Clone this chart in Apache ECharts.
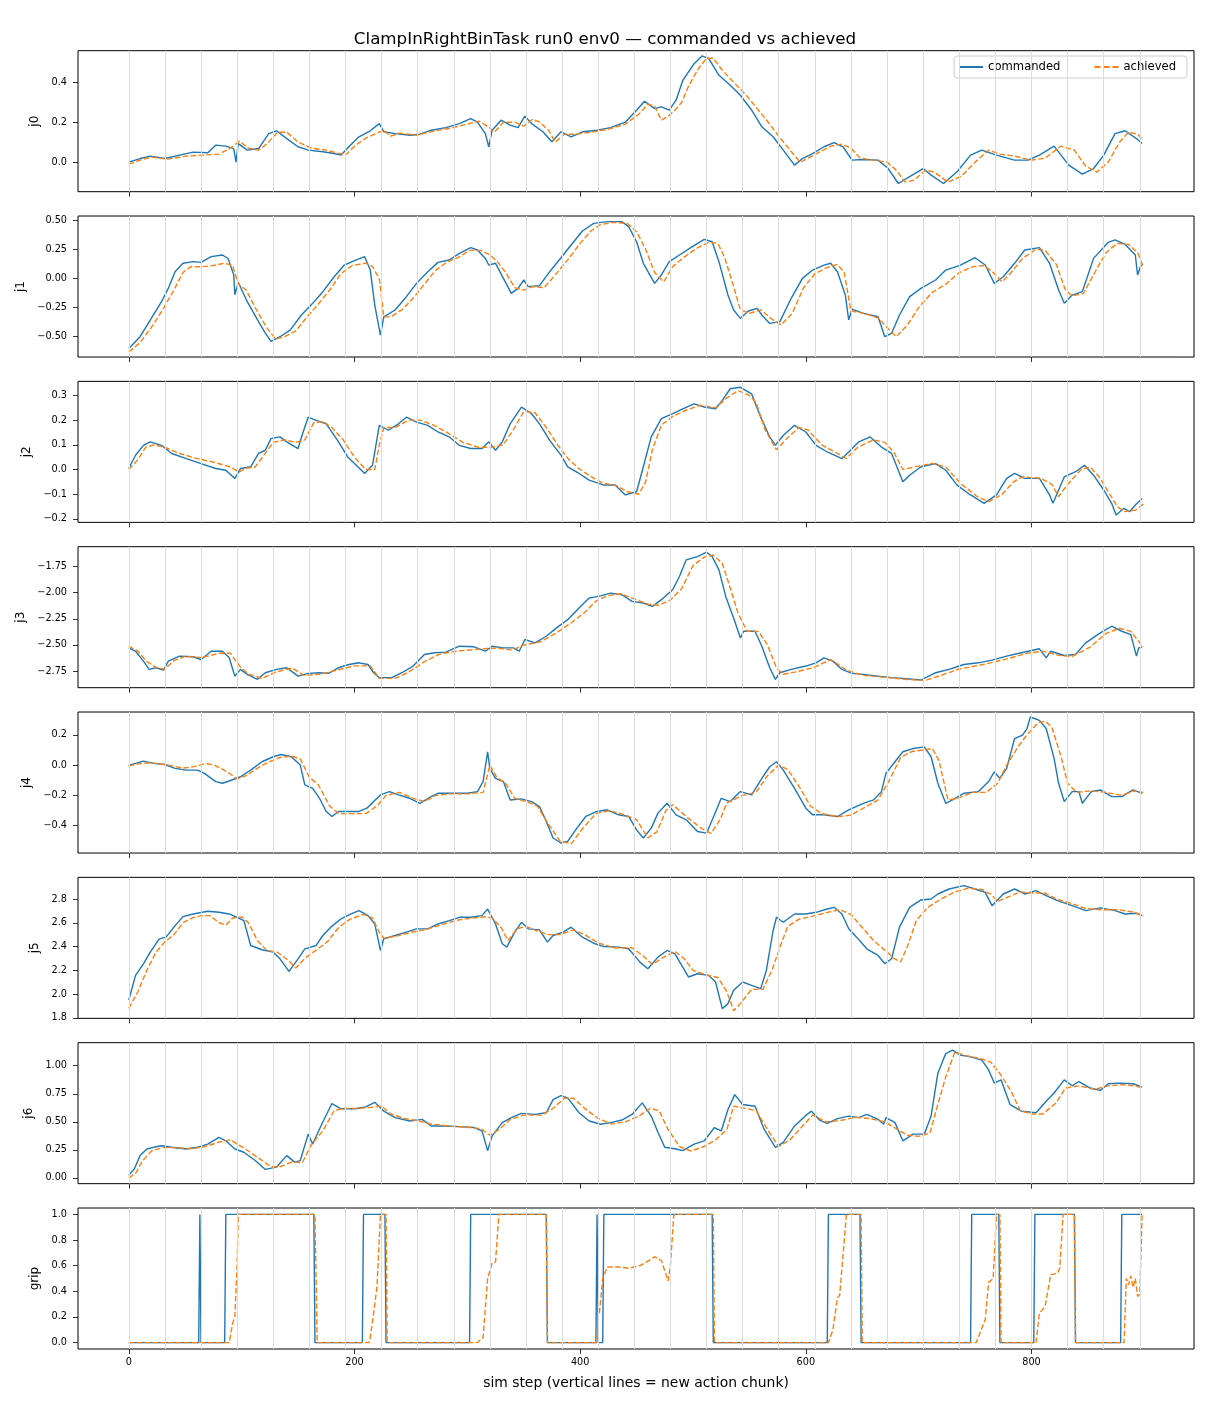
<!DOCTYPE html>
<html>
<head>
<meta charset="utf-8">
<script src="https://cdn.jsdelivr.net/npm/echarts@6/dist/echarts.min.js"></script>
<style>
  html, body { margin: 0; padding: 0; background: #fff; }
  #chart { width: 1210px; height: 1408px; }
</style>
</head>
<body>
<div id="chart"></div>
<script>
// steps where a new action chunk starts
const chunkStarts = [0, 32, 64, 96, 128, 160, 192, 224, 256, 288, 320, 352, 384, 416, 448, 480,
  512, 544, 576, 608, 640, 672, 704, 736, 768, 800, 832, 864, 896];
const xTicks = [0, 200, 400, 600, 800];

// [step, value]
const j0Cmd = [[0,0.0],[10,0.018],[19,0.03],[32,0.018],[45,0.035],[57,0.05],[70,0.047],[77,0.085],[86,0.08],[93,0.068],[95,0.0],[97,0.093],[105,0.06],[115,0.068],[124,0.143],[131,0.157],[140,0.118],[150,0.077],[159,0.06],[172,0.052],[182,0.043],[188,0.035],[195,0.077],[204,0.127],[214,0.157],[222,0.193],[226,0.152],[236,0.143],[249,0.135],[258,0.14],[268,0.16],[281,0.173],[293,0.193],[303,0.218],[309,0.2],[316,0.143],[319,0.077],[322,0.16],[330,0.21],[338,0.185],[345,0.173],[351,0.23],[357,0.193],[367,0.152],[375,0.102],[383,0.152],[392,0.127],[402,0.152],[415,0.16],[427,0.173],[440,0.2],[450,0.26],[457,0.305],[466,0.268],[472,0.277],[479,0.26],[485,0.31],[491,0.41],[501,0.493],[508,0.532],[514,0.518],[523,0.435],[533,0.385],[542,0.335],[552,0.26],[561,0.177],[571,0.127],[580,0.06],[590,-0.015],[597,0.018],[606,0.043],[616,0.077],[625,0.098],[633,0.077],[641,0.01],[651,0.013],[664,0.01],[673,-0.032],[682,-0.107],[692,-0.073],[704,-0.032],[711,-0.065],[722,-0.107],[734,-0.048],[746,0.035],[756,0.06],[769,0.035],[785,0.01],[797,0.01],[807,0.035],[820,0.08],[833,-0.015],[845,-0.06],[855,-0.032],[864,0.035],[874,0.143],[883,0.157],[893,0.118],[898,0.093]];
const j0Ach = [[0,-0.01],[10,0.01],[20,0.025],[35,0.015],[50,0.03],[65,0.035],[80,0.04],[90,0.07],[98,0.105],[106,0.07],[115,0.06],[122,0.09],[132,0.15],[140,0.15],[150,0.1],[162,0.07],[175,0.06],[185,0.045],[193,0.04],[200,0.08],[210,0.12],[218,0.14],[226,0.16],[232,0.13],[240,0.145],[255,0.135],[270,0.155],[285,0.17],[300,0.19],[310,0.205],[318,0.18],[324,0.15],[332,0.2],[342,0.2],[350,0.18],[358,0.215],[364,0.2],[372,0.16],[378,0.1],[386,0.14],[396,0.14],[410,0.15],[425,0.165],[440,0.19],[452,0.24],[460,0.29],[466,0.28],[472,0.21],[478,0.23],[484,0.26],[490,0.3],[496,0.38],[505,0.47],[512,0.52],[518,0.52],[526,0.46],[536,0.4],[548,0.33],[558,0.26],[568,0.19],[576,0.13],[586,0.06],[595,0.0],[602,0.02],[612,0.05],[622,0.08],[632,0.09],[640,0.07],[648,0.02],[660,0.01],[672,0.0],[680,-0.04],[688,-0.1],[696,-0.09],[706,-0.04],[714,-0.05],[726,-0.1],[738,-0.07],[750,0.0],[762,0.06],[772,0.04],[785,0.03],[800,0.01],[812,0.02],[826,0.08],[838,0.06],[848,-0.02],[858,-0.05],[868,0.0],[878,0.1],[886,0.15],[894,0.14],[899,0.11]];

const j1Cmd = [[0,-0.6],[10,-0.5],[19,-0.357],[29,-0.2],[35,-0.086],[41,0.057],[48,0.129],[57,0.143],[64,0.137],[73,0.186],[83,0.2],[88,0.17],[93,0.03],[94,-0.14],[97,-0.034],[105,-0.2],[115,-0.37],[121,-0.47],[126,-0.54],[134,-0.5],[143,-0.443],[153,-0.314],[163,-0.214],[172,-0.114],[182,0.014],[191,0.114],[201,0.157],[209,0.186],[214,0.071],[218,-0.229],[223,-0.486],[226,-0.33],[236,-0.271],[246,-0.157],[255,-0.043],[265,0.057],[274,0.137],[284,0.157],[293,0.214],[303,0.263],[309,0.243],[316,0.171],[319,0.114],[325,0.129],[332,0.0],[339,-0.129],[345,-0.086],[350,-0.014],[354,-0.071],[364,-0.063],[373,0.057],[383,0.177],[392,0.286],[402,0.406],[412,0.471],[424,0.486],[437,0.486],[443,0.443],[450,0.314],[456,0.129],[466,-0.043],[472,0.029],[479,0.143],[488,0.2],[498,0.263],[510,0.334],[517,0.314],[523,0.143],[531,-0.143],[536,-0.271],[542,-0.343],[549,-0.28],[557,-0.257],[561,-0.314],[568,-0.386],[577,-0.371],[587,-0.171],[597,0.0],[606,0.071],[616,0.114],[622,0.129],[628,0.057],[635,-0.143],[638,-0.357],[641,-0.263],[651,-0.3],[664,-0.329],[670,-0.5],[676,-0.471],[683,-0.314],[692,-0.157],[702,-0.086],[715,-0.014],[724,0.071],[737,0.114],[750,0.177],[759,0.114],[767,-0.043],[775,0.014],[785,0.129],[794,0.243],[807,0.263],[816,0.129],[824,-0.1],[829,-0.214],[836,-0.143],[845,-0.114],[855,0.171],[868,0.309],[874,0.329],[883,0.291],[892,0.2],[894,0.029],[897,0.114],[898,0.109]];
const j1Ach = [[0,-0.63],[10,-0.55],[20,-0.42],[30,-0.27],[40,-0.1],[48,0.05],[55,0.1],[65,0.1],[75,0.11],[85,0.13],[92,0.11],[97,-0.05],[104,-0.1],[112,-0.25],[122,-0.42],[130,-0.52],[138,-0.5],[148,-0.45],[158,-0.33],[168,-0.22],[178,-0.1],[188,0.04],[198,0.11],[210,0.13],[216,0.1],[222,0.0],[226,-0.33],[232,-0.33],[242,-0.27],[252,-0.17],[262,-0.05],[272,0.07],[282,0.14],[292,0.18],[302,0.24],[312,0.24],[320,0.2],[326,0.15],[334,0.05],[342,-0.08],[350,-0.1],[358,-0.07],[368,-0.08],[378,0.03],[390,0.17],[400,0.3],[410,0.41],[418,0.46],[430,0.48],[442,0.47],[450,0.4],[458,0.25],[466,0.05],[474,-0.03],[482,0.1],[492,0.18],[502,0.25],[514,0.31],[522,0.3],[528,0.18],[536,-0.07],[542,-0.27],[550,-0.3],[560,-0.27],[570,-0.35],[578,-0.4],[588,-0.3],[598,-0.08],[608,0.04],[618,0.09],[628,0.12],[634,0.05],[640,-0.28],[652,-0.3],[664,-0.34],[672,-0.42],[680,-0.5],[690,-0.4],[700,-0.25],[712,-0.12],[724,-0.05],[736,0.05],[748,0.1],[758,0.11],[766,0.05],[774,-0.03],[782,0.05],[792,0.17],[804,0.25],[812,0.24],[822,0.12],[830,-0.1],[836,-0.15],[846,-0.13],[856,0.05],[866,0.22],[876,0.3],[886,0.29],[894,0.22],[899,0.1]];

const j2Cmd = [[0,0.004],[6,0.058],[13,0.098],[19,0.112],[29,0.098],[38,0.065],[51,0.044],[64,0.024],[77,0.004],[86,-0.003],[94,-0.036],[99,0.004],[108,0.011],[115,0.065],[121,0.078],[126,0.125],[134,0.132],[140,0.112],[150,0.085],[154,0.145],[159,0.212],[166,0.199],[175,0.185],[185,0.118],[194,0.051],[203,0.011],[209,-0.016],[216,0.017],[222,0.179],[230,0.159],[239,0.185],[246,0.212],[255,0.192],[265,0.179],[274,0.152],[284,0.132],[293,0.098],[303,0.085],[313,0.085],[319,0.112],[325,0.078],[331,0.112],[338,0.185],[348,0.253],[357,0.226],[364,0.185],[373,0.118],[383,0.058],[389,0.011],[399,-0.016],[408,-0.043],[421,-0.063],[431,-0.063],[440,-0.103],[450,-0.09],[456,0.011],[463,0.132],[472,0.206],[482,0.226],[491,0.246],[501,0.266],[510,0.253],[520,0.246],[526,0.28],[533,0.327],[542,0.333],[552,0.306],[560,0.212],[568,0.132],[573,0.098],[580,0.138],[590,0.179],[600,0.152],[609,0.098],[619,0.071],[632,0.044],[638,0.071],[647,0.112],[657,0.132],[667,0.091],[676,0.065],[686,-0.05],[692,-0.023],[702,0.011],[715,0.024],[724,-0.003],[734,-0.063],[746,-0.103],[758,-0.137],[769,-0.103],[778,-0.036],[785,-0.016],[794,-0.036],[807,-0.036],[816,-0.103],[819,-0.137],[829,-0.03],[839,-0.009],[847,0.017],[855,-0.023],[864,-0.083],[871,-0.137],[875,-0.184],[882,-0.157],[887,-0.171],[892,-0.144],[898,-0.117]];
const j2Ach = [[0,0.0],[8,0.04],[15,0.09],[22,0.1],[32,0.09],[45,0.065],[60,0.045],[75,0.03],[90,0.01],[98,-0.01],[104,0.005],[112,0.01],[120,0.06],[128,0.11],[138,0.12],[148,0.11],[156,0.12],[164,0.19],[172,0.195],[180,0.17],[190,0.12],[200,0.05],[210,0.0],[218,0.0],[222,0.1],[226,0.17],[236,0.17],[248,0.2],[258,0.2],[270,0.18],[282,0.15],[296,0.11],[310,0.09],[322,0.09],[332,0.1],[342,0.17],[350,0.235],[360,0.23],[370,0.17],[380,0.1],[390,0.04],[400,0.0],[410,-0.03],[420,-0.055],[432,-0.065],[442,-0.09],[452,-0.1],[458,-0.05],[464,0.08],[472,0.18],[482,0.215],[494,0.24],[506,0.26],[520,0.25],[530,0.29],[540,0.32],[550,0.3],[556,0.27],[564,0.16],[574,0.08],[584,0.13],[594,0.17],[602,0.16],[614,0.1],[626,0.07],[636,0.045],[646,0.09],[660,0.12],[670,0.11],[678,0.07],[686,0.0],[696,0.01],[712,0.025],[724,0.01],[738,-0.06],[752,-0.11],[762,-0.13],[774,-0.1],[784,-0.05],[792,-0.03],[808,-0.035],[818,-0.06],[824,-0.11],[832,-0.06],[844,0.0],[852,0.01],[860,-0.03],[868,-0.09],[876,-0.15],[882,-0.17],[892,-0.165],[899,-0.14]];

const j3Cmd = [[0,-2.528],[6,-2.56],[13,-2.655],[18,-2.734],[24,-2.718],[31,-2.74],[35,-2.655],[45,-2.607],[57,-2.613],[64,-2.639],[73,-2.56],[83,-2.56],[89,-2.623],[94,-2.798],[99,-2.734],[105,-2.782],[114,-2.829],[121,-2.766],[131,-2.734],[140,-2.718],[150,-2.798],[159,-2.772],[169,-2.766],[177,-2.772],[186,-2.718],[195,-2.687],[204,-2.671],[212,-2.687],[217,-2.766],[222,-2.813],[233,-2.813],[242,-2.766],[252,-2.702],[262,-2.591],[271,-2.575],[281,-2.569],[293,-2.512],[306,-2.518],[316,-2.56],[322,-2.512],[332,-2.528],[341,-2.528],[346,-2.56],[351,-2.448],[360,-2.48],[370,-2.417],[379,-2.337],[389,-2.258],[399,-2.147],[408,-2.052],[418,-2.03],[427,-2.004],[437,-2.02],[446,-2.083],[456,-2.099],[464,-2.131],[472,-2.067],[482,-1.972],[488,-1.845],[494,-1.686],[504,-1.655],[512,-1.613],[517,-1.655],[523,-1.782],[529,-2.036],[536,-2.242],[542,-2.433],[545,-2.369],[555,-2.369],[561,-2.512],[568,-2.718],[573,-2.829],[577,-2.766],[587,-2.734],[600,-2.702],[609,-2.671],[616,-2.623],[624,-2.655],[632,-2.734],[641,-2.772],[651,-2.782],[664,-2.798],[676,-2.813],[689,-2.823],[702,-2.836],[715,-2.766],[727,-2.734],[740,-2.687],[753,-2.671],[765,-2.645],[778,-2.607],[791,-2.575],[807,-2.537],[813,-2.623],[817,-2.56],[829,-2.601],[839,-2.591],[848,-2.48],[861,-2.385],[871,-2.321],[880,-2.369],[888,-2.401],[893,-2.607],[895,-2.528],[898,-2.518]];
const j3Ach = [[0,-2.51],[8,-2.56],[16,-2.66],[25,-2.72],[32,-2.73],[40,-2.65],[50,-2.61],[65,-2.62],[80,-2.58],[90,-2.58],[98,-2.7],[106,-2.78],[118,-2.82],[130,-2.76],[145,-2.72],[155,-2.79],[170,-2.78],[185,-2.74],[200,-2.7],[214,-2.7],[222,-2.82],[236,-2.82],[248,-2.76],[262,-2.66],[275,-2.59],[290,-2.56],[310,-2.54],[326,-2.53],[340,-2.55],[350,-2.5],[365,-2.47],[378,-2.39],[392,-2.29],[404,-2.19],[414,-2.08],[424,-2.03],[436,-2.01],[448,-2.06],[460,-2.11],[470,-2.12],[480,-2.07],[490,-1.96],[500,-1.74],[510,-1.66],[518,-1.64],[526,-1.72],[532,-1.92],[540,-2.2],[548,-2.37],[558,-2.37],[566,-2.5],[574,-2.72],[580,-2.78],[590,-2.76],[606,-2.72],[622,-2.64],[636,-2.74],[650,-2.79],[670,-2.81],[690,-2.83],[706,-2.84],[720,-2.79],[736,-2.73],[756,-2.69],[776,-2.64],[796,-2.58],[810,-2.56],[824,-2.6],[836,-2.61],[852,-2.52],[866,-2.39],[878,-2.34],[888,-2.37],[896,-2.48],[899,-2.52]];

const j4Cmd = [[0,0.0],[6,0.011],[13,0.026],[22,0.011],[32,0.004],[41,-0.022],[51,-0.033],[61,-0.033],[67,-0.055],[77,-0.109],[83,-0.12],[89,-0.105],[99,-0.077],[108,-0.033],[118,0.022],[128,0.055],[135,0.07],[144,0.055],[152,0.0],[156,-0.131],[163,-0.153],[169,-0.219],[175,-0.306],[180,-0.339],[186,-0.306],[195,-0.306],[204,-0.306],[211,-0.284],[217,-0.241],[223,-0.197],[231,-0.175],[239,-0.197],[249,-0.219],[258,-0.252],[268,-0.208],[274,-0.186],[287,-0.186],[300,-0.186],[309,-0.175],[314,-0.109],[318,0.088],[320,-0.022],[325,-0.088],[332,-0.109],[338,-0.23],[348,-0.223],[357,-0.241],[364,-0.274],[370,-0.372],[376,-0.481],[383,-0.514],[389,-0.503],[396,-0.427],[405,-0.339],[415,-0.306],[424,-0.295],[434,-0.328],[443,-0.339],[450,-0.427],[456,-0.481],[463,-0.416],[469,-0.317],[477,-0.252],[485,-0.328],[494,-0.361],[504,-0.438],[512,-0.449],[519,-0.328],[525,-0.219],[533,-0.241],[542,-0.175],[552,-0.197],[561,-0.088],[568,-0.011],[574,0.022],[580,-0.033],[590,-0.153],[600,-0.284],[606,-0.328],[616,-0.328],[628,-0.339],[638,-0.295],[651,-0.252],[660,-0.23],[667,-0.175],[671,-0.055],[679,0.022],[686,0.088],[695,0.109],[705,0.12],[711,0.055],[717,-0.12],[724,-0.252],[730,-0.23],[740,-0.186],[753,-0.175],[762,-0.109],[767,-0.044],[772,-0.088],[778,-0.022],[785,0.175],[792,0.197],[796,0.241],[799,0.317],[807,0.295],[813,0.241],[820,0.044],[824,-0.12],[829,-0.241],[836,-0.175],[842,-0.175],[845,-0.252],[853,-0.175],[861,-0.164],[871,-0.208],[880,-0.208],[890,-0.164],[898,-0.186]];
const j4Ach = [[0,-0.005],[10,0.01],[20,0.015],[35,0.0],[48,-0.02],[58,-0.01],[68,0.01],[76,0.0],[86,-0.04],[96,-0.09],[104,-0.07],[114,-0.02],[124,0.02],[134,0.05],[144,0.06],[152,0.04],[160,-0.08],[168,-0.13],[178,-0.27],[186,-0.32],[198,-0.32],[210,-0.32],[220,-0.27],[228,-0.2],[240,-0.18],[252,-0.22],[262,-0.24],[272,-0.2],[284,-0.19],[300,-0.19],[314,-0.18],[320,0.0],[326,-0.08],[334,-0.12],[342,-0.22],[352,-0.24],[362,-0.27],[372,-0.39],[382,-0.5],[392,-0.52],[402,-0.42],[414,-0.32],[426,-0.3],[440,-0.33],[450,-0.36],[460,-0.48],[468,-0.44],[476,-0.3],[482,-0.26],[494,-0.34],[508,-0.42],[516,-0.45],[524,-0.36],[530,-0.25],[544,-0.2],[556,-0.18],[566,-0.07],[576,0.0],[584,-0.03],[594,-0.14],[604,-0.27],[614,-0.32],[628,-0.34],[640,-0.33],[652,-0.28],[664,-0.23],[674,-0.1],[684,0.05],[694,0.09],[704,0.1],[712,0.11],[718,0.03],[726,-0.23],[734,-0.22],[748,-0.18],[760,-0.18],[770,-0.12],[778,0.0],[788,0.12],[796,0.2],[806,0.28],[812,0.29],[818,0.25],[826,0.06],[832,-0.12],[840,-0.18],[852,-0.17],[866,-0.18],[880,-0.2],[890,-0.17],[899,-0.18]];

const j5Cmd = [[0,1.95],[6,2.158],[13,2.255],[19,2.353],[27,2.465],[33,2.479],[40,2.563],[48,2.652],[57,2.674],[70,2.697],[80,2.688],[89,2.674],[96,2.646],[102,2.618],[108,2.409],[118,2.373],[128,2.353],[134,2.297],[142,2.191],[150,2.297],[156,2.381],[166,2.409],[172,2.493],[179,2.563],[188,2.632],[197,2.674],[204,2.702],[212,2.66],[218,2.59],[223,2.367],[226,2.465],[236,2.493],[246,2.521],[255,2.549],[265,2.549],[274,2.59],[284,2.618],[293,2.646],[303,2.646],[313,2.66],[318,2.716],[325,2.59],[331,2.423],[335,2.395],[342,2.521],[348,2.604],[354,2.549],[364,2.54],[371,2.437],[376,2.493],[385,2.521],[392,2.563],[402,2.479],[412,2.428],[421,2.4],[434,2.395],[443,2.381],[453,2.269],[460,2.213],[469,2.311],[477,2.367],[484,2.339],[490,2.241],[496,2.144],[504,2.171],[514,2.157],[520,2.102],[526,1.878],[531,1.92],[536,2.032],[544,2.102],[552,2.074],[560,2.046],[565,2.199],[571,2.535],[574,2.646],[580,2.604],[590,2.674],[600,2.674],[609,2.688],[619,2.716],[625,2.73],[632,2.674],[638,2.549],[645,2.479],[654,2.381],[664,2.325],[670,2.255],[676,2.297],[683,2.563],[692,2.73],[702,2.792],[711,2.8],[717,2.842],[727,2.884],[740,2.912],[750,2.884],[759,2.856],[765,2.744],[775,2.842],[785,2.884],[794,2.842],[804,2.87],[813,2.828],[823,2.786],[836,2.744],[848,2.702],[861,2.725],[874,2.702],[883,2.674],[893,2.68],[898,2.66]];
const j5Ach = [[0,1.88],[8,2.02],[16,2.2],[24,2.35],[32,2.44],[40,2.5],[48,2.6],[56,2.64],[64,2.66],[72,2.66],[80,2.6],[86,2.58],[92,2.64],[100,2.65],[106,2.6],[114,2.45],[122,2.37],[132,2.35],[142,2.28],[148,2.22],[156,2.3],[166,2.37],[176,2.44],[186,2.56],[196,2.63],[208,2.67],[216,2.64],[222,2.52],[226,2.47],[238,2.49],[250,2.52],[262,2.54],[276,2.58],[290,2.62],[304,2.64],[316,2.65],[322,2.64],[330,2.56],[336,2.45],[344,2.55],[352,2.57],[362,2.53],[372,2.5],[382,2.5],[394,2.54],[404,2.5],[416,2.43],[430,2.39],[446,2.39],[456,2.32],[464,2.25],[474,2.31],[484,2.36],[492,2.3],[500,2.2],[512,2.16],[522,2.14],[530,2.02],[536,1.86],[542,1.92],[552,2.04],[562,2.04],[570,2.2],[578,2.42],[584,2.57],[594,2.63],[608,2.66],[620,2.69],[630,2.71],[640,2.67],[650,2.56],[660,2.45],[670,2.37],[678,2.3],[684,2.27],[690,2.4],[698,2.62],[708,2.73],[720,2.8],[732,2.86],[744,2.89],[756,2.88],[764,2.84],[770,2.78],[780,2.82],[790,2.86],[800,2.85],[812,2.85],[822,2.8],[836,2.76],[848,2.72],[862,2.71],[876,2.71],[890,2.69],[899,2.66]];

const j6Cmd = [[0,0.023],[5,0.082],[10,0.199],[16,0.258],[22,0.273],[29,0.287],[38,0.273],[51,0.258],[61,0.273],[70,0.302],[80,0.361],[86,0.331],[94,0.258],[102,0.229],[112,0.155],[121,0.076],[131,0.097],[140,0.199],[147,0.141],[152,0.155],[159,0.39],[163,0.302],[171,0.478],[180,0.663],[188,0.616],[201,0.616],[210,0.633],[218,0.674],[226,0.595],[236,0.537],[249,0.507],[260,0.522],[268,0.463],[281,0.463],[293,0.457],[306,0.449],[313,0.419],[318,0.243],[322,0.375],[331,0.493],[339,0.537],[348,0.575],[360,0.566],[370,0.581],[376,0.698],[383,0.733],[389,0.713],[399,0.581],[408,0.507],[418,0.478],[427,0.493],[437,0.516],[446,0.566],[455,0.669],[463,0.551],[469,0.405],[475,0.273],[485,0.258],[491,0.243],[501,0.302],[510,0.331],[519,0.449],[525,0.419],[531,0.61],[537,0.742],[544,0.654],[555,0.639],[563,0.434],[573,0.273],[580,0.317],[590,0.463],[600,0.557],[605,0.595],[612,0.516],[619,0.487],[628,0.528],[638,0.551],[647,0.537],[654,0.566],[664,0.522],[669,0.478],[671,0.537],[679,0.493],[686,0.331],[695,0.39],[705,0.39],[711,0.551],[717,0.933],[724,1.108],[730,1.138],[737,1.094],[746,1.079],[756,1.05],[762,0.962],[767,0.845],[773,0.874],[781,0.654],[791,0.595],[804,0.581],[813,0.683],[820,0.757],[829,0.874],[836,0.821],[842,0.859],[852,0.801],[861,0.78],[868,0.839],[877,0.845],[890,0.839],[898,0.809]];
const j6Ach = [[0,0.0],[6,0.04],[12,0.15],[20,0.24],[30,0.27],[42,0.27],[56,0.26],[68,0.28],[80,0.32],[90,0.34],[98,0.29],[106,0.24],[116,0.17],[126,0.1],[134,0.1],[144,0.14],[154,0.14],[162,0.3],[172,0.42],[182,0.6],[190,0.62],[204,0.62],[216,0.63],[224,0.64],[232,0.57],[244,0.53],[256,0.51],[268,0.48],[286,0.46],[302,0.45],[312,0.44],[320,0.38],[328,0.43],[338,0.52],[350,0.56],[366,0.56],[376,0.62],[386,0.71],[394,0.71],[404,0.62],[416,0.53],[428,0.48],[440,0.5],[452,0.55],[462,0.62],[470,0.6],[478,0.43],[488,0.28],[498,0.24],[510,0.28],[520,0.34],[530,0.43],[536,0.64],[546,0.62],[556,0.6],[566,0.43],[576,0.28],[586,0.34],[596,0.45],[606,0.56],[618,0.5],[630,0.51],[644,0.54],[656,0.53],[670,0.5],[680,0.44],[690,0.38],[700,0.37],[710,0.4],[716,0.62],[724,0.9],[732,1.12],[742,1.09],[756,1.06],[764,1.03],[772,0.93],[782,0.77],[790,0.6],[800,0.57],[810,0.57],[822,0.67],[830,0.8],[842,0.82],[856,0.79],[868,0.82],[880,0.83],[892,0.82],[899,0.8]];

const gripCmd = [[0,0],[62,0],[63,1],[64,0],[85,0],[86,1],[164,1],[165,0],[207,0],[208,1],[227,1],[228,0],[302,0],[303,1],[370,1],[371,0],[414,0],[415,1],[416,0],[420,0],[421,1],[517,1],[518,0],[619,0],[620,1],[648,1],[649,0],[746,0],[747,1],[771,1],[772,0],[802,0],[803,1],[838,1],[839,0],[879,0],[880,1],[898,1]];
const gripAch = [[0,0],[89,0],[92,0.15],[94,0.2],[96,0.6],[97,1],[165,1],[167,0],[213,0],[214,0.04],[217,0.23],[220,0.44],[223,1],[228,1],[229,0],[309,0],[314,0.04],[318,0.5],[322,0.62],[325,0.63],[328,1],[370,1],[371,0],[415,0],[416,0.3],[417,0.22],[420,0.5],[424,0.59],[434,0.59],[443,0.58],[453,0.6],[459,0.63],[466,0.67],[472,0.64],[478,0.48],[480,0.6],[483,1],[518,1],[519,0],[620,0],[624,0.1],[628,0.35],[630,0.37],[636,1],[649,1],[650,0],[751,0],[759,0.18],[762,0.47],[766,0.5],[769,1],[772,1],[773,0],[804,0],[807,0.23],[812,0.28],[817,0.53],[823,0.54],[825,0.58],[828,1],[838,1],[839,0],[882,0],[884,0.5],[886,0.45],[888,0.52],[890,0.43],[892,0.5],[894,0.36],[896,0.38],[898,1]];

const panels = [
  { name: 'j0', cmd: j0Cmd, ach: j0Ach, min: -0.148, max: 0.558, ticks: [0, 0.2, 0.4], dec: 1 },
  { name: 'j1', cmd: j1Cmd, ach: j1Ach, min: -0.674, max: 0.534, ticks: [-0.5, -0.25, 0, 0.25, 0.5], dec: 2 },
  { name: 'j2', cmd: j2Cmd, ach: j2Ach, min: -0.214, max: 0.357, ticks: [-0.2, -0.1, 0, 0.1, 0.2, 0.3], dec: 1 },
  { name: 'j3', cmd: j3Cmd, ach: j3Ach, min: -2.909, max: -1.56, ticks: [-2.75, -2.5, -2.25, -2.0, -1.75], dec: 2 },
  { name: 'j4', cmd: j4Cmd, ach: j4Ach, min: -0.58, max: 0.35, ticks: [-0.4, -0.2, 0, 0.2], dec: 1 },
  { name: 'j5', cmd: j5Cmd, ach: j5Ach, min: 1.796, max: 2.982, ticks: [1.8, 2.0, 2.2, 2.4, 2.6, 2.8], dec: 1 },
  { name: 'j6', cmd: j6Cmd, ach: j6Ach, min: -0.051, max: 1.205, ticks: [0, 0.25, 0.5, 0.75, 1.0], dec: 2 },
  { name: 'grip', cmd: gripCmd, ach: gripAch, min: -0.05, max: 1.05, ticks: [0, 0.2, 0.4, 0.6, 0.8, 1.0], dec: 1 }
];

const FONT = 'DejaVu Sans';
const fmt = (v, d) => (v < 0 ? '\u2212' : '') + Math.abs(v).toFixed(d);

// legend icons drawn as plain line pieces (no markers)
const solidIcon = 'path://M0,0H24V2H0Z';
const dashIcon = 'path://M0,0H6V2H0Z M9,0H15V2H9Z M18,0H24V2H18Z';

const grids = [], xAxes = [], yAxes = [], series = [];
panels.forEach((p, i) => {
  const last = i === panels.length - 1;
  grids.push({
    left: 78, right: 16, top: 50.7 + i * 165.33, height: 141,
    show: true, borderColor: '#000', borderWidth: 1, backgroundColor: 'transparent'
  });
  xAxes.push({
    type: 'value', gridIndex: i, min: -45, max: 944, position: 'bottom',
    axisLine: { show: false, onZero: false },
    splitLine: { show: false },
    axisTick: { show: true, length: 5, customValues: xTicks, lineStyle: { color: '#000', width: 0.8 } },
    axisLabel: { show: last, customValues: xTicks, fontSize: 9.7, color: '#000', fontFamily: FONT, margin: 8 },
    name: last ? 'sim step (vertical lines = new action chunk)' : '',
    nameLocation: 'middle', nameGap: 27,
    nameTextStyle: { fontSize: 13.9, color: '#000', fontFamily: FONT }
  });
  yAxes.push({
    type: 'value', gridIndex: i, min: p.min, max: p.max, position: 'left',
    axisLine: { show: false, onZero: false },
    splitLine: { show: false },
    axisTick: { show: true, length: 5, customValues: p.ticks, lineStyle: { color: '#000', width: 0.8 } },
    axisLabel: {
      customValues: p.ticks, fontSize: 9.7, color: '#000', fontFamily: FONT, margin: 11,
      formatter: v => fmt(v, p.dec)
    },
    name: p.name, nameLocation: 'middle', nameRotate: 90, nameGap: 35,
    nameTextStyle: { fontSize: 12, color: '#000', fontFamily: FONT }
  });
  // chunk boundaries
  series.push({
    type: 'line', xAxisIndex: i, yAxisIndex: i, data: [], silent: true, z: 1,
    markLine: {
      silent: true, symbol: ['none', 'none'], label: { show: false },
      lineStyle: { color: '#dcdcdc', width: 1, type: 'solid' },
      emphasis: { disabled: true },
      data: chunkStarts.map(x => ({ xAxis: x }))
    }
  });
  series.push({
    name: 'commanded', type: 'line', xAxisIndex: i, yAxisIndex: i, data: p.cmd,
    showSymbol: false, symbol: 'none', z: 3,
    lineStyle: { color: '#1f77b4', width: 1.4 }, itemStyle: { color: '#1f77b4' },
    emphasis: { disabled: true }
  });
  series.push({
    name: 'achieved', type: 'line', xAxisIndex: i, yAxisIndex: i, data: p.ach,
    showSymbol: false, symbol: 'none', z: 4,
    lineStyle: { color: '#ff7f0e', width: 1.4, type: [5.5, 2.4] }, itemStyle: { color: '#ff7f0e' },
    emphasis: { disabled: true }
  });
});

const myChart = echarts.init(document.getElementById('chart'));
myChart.setOption({
  animation: false,
  backgroundColor: '#fff',
  title: {
    text: 'ClampInRightBinTask run0 env0 \u2014 commanded vs achieved',
    left: 'center', top: 26,
    textStyle: { fontSize: 16.7, fontWeight: 'normal', color: '#000', fontFamily: FONT }
  },
  legend: {
    data: [
      { name: 'commanded', icon: solidIcon, itemStyle: { color: '#1f77b4' } },
      { name: 'achieved', icon: dashIcon, itemStyle: { color: '#ff7f0e' } }
    ],
    right: 23, top: 56,
    itemWidth: 24, itemHeight: 2, itemGap: 34,
    padding: [5, 11, 5, 5],
    borderColor: '#cccccc', borderWidth: 1, borderRadius: 3,
    backgroundColor: 'rgba(255,255,255,0.8)',
    textStyle: { fontSize: 11.6, color: '#000', fontFamily: FONT },
    selectedMode: false
  },
  grid: grids,
  xAxis: xAxes,
  yAxis: yAxes,
  series: series
});
</script>
</body>
</html>
